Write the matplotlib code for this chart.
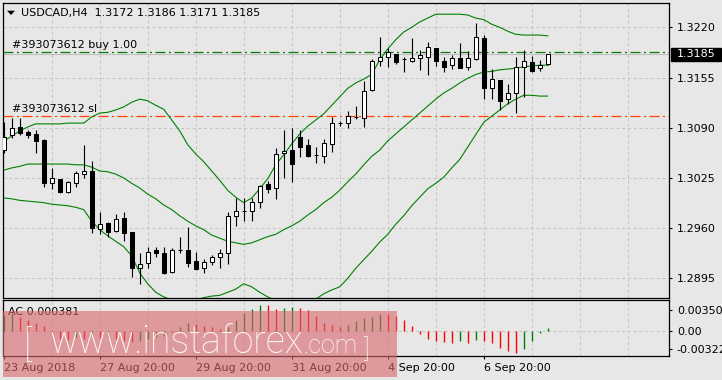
import matplotlib
matplotlib.use("Agg")
import matplotlib.pyplot as plt
from matplotlib.patches import Rectangle, Polygon

W, H = 722, 380
BG = "#e7e7e7"
GRID = "#c6c6c6"

# --- USDCAD H4 candles ---
opens = [1.3061, 1.3081, 1.3091, 1.3085, 1.3082, 1.3074, 1.3018, 1.3024, 1.3007, 1.3018,
         1.3030, 1.3034, 1.2959, 1.2967, 1.2956, 1.2973, 1.2955, 1.2908, 1.2915, 1.2932,
         1.2928, 1.2903, 1.2932, 1.2932, 1.2917, 1.2908, 1.2916, 1.2923, 1.2928, 1.2976,
         1.2982, 1.2982, 1.2994, 1.3017, 1.3012, 1.3057, 1.3061, 1.3078, 1.3068, 1.3055,
         1.3053, 1.3069, 1.3096, 1.3096, 1.3104, 1.3103, 1.3139, 1.3176, 1.3182, 1.3185,
         1.3179, 1.3176, 1.3180, 1.3182, 1.3193, 1.3176, 1.3171, 1.3180, 1.3169, 1.3179,
         1.3206, 1.3141, 1.3152, 1.3127, 1.3135, 1.3169, 1.3175, 1.3167, 1.3172]
highs = [1.3097, 1.3103, 1.3103, 1.3087, 1.3087, 1.3075, 1.3038, 1.3024, 1.3021, 1.3034,
         1.3068, 1.3047, 1.2981, 1.2968, 1.2978, 1.2981, 1.2955, 1.2928, 1.2936, 1.2936,
         1.2936, 1.2934, 1.2949, 1.2961, 1.2929, 1.2920, 1.2925, 1.2933, 1.2981, 1.2999,
         1.2999, 1.2999, 1.3016, 1.3021, 1.3064, 1.3087, 1.3090, 1.3087, 1.3075, 1.3065,
         1.3075, 1.3104, 1.3099, 1.3112, 1.3118, 1.3151, 1.3179, 1.3207, 1.3193, 1.3185,
         1.3182, 1.3206, 1.3191, 1.3201, 1.3193, 1.3182, 1.3184, 1.3200, 1.3189, 1.3226,
         1.3210, 1.3166, 1.3152, 1.3147, 1.3182, 1.3191, 1.3183, 1.3178, 1.3186]
lows = [1.3057, 1.3077, 1.3081, 1.3077, 1.3057, 1.3013, 1.3011, 1.3006, 1.3006, 1.3013,
        1.3025, 1.2954, 1.2952, 1.2949, 1.2955, 1.2943, 1.2897, 1.2888, 1.2908, 1.2923,
        1.2901, 1.2902, 1.2928, 1.2910, 1.2906, 1.2902, 1.2912, 1.2908, 1.2914, 1.2963,
        1.2969, 1.2969, 1.2986, 1.3006, 1.2998, 1.3025, 1.3020, 1.3052, 1.3052, 1.3044,
        1.3044, 1.3059, 1.3092, 1.3090, 1.3101, 1.3091, 1.3138, 1.3170, 1.3169, 1.3172,
        1.3162, 1.3175, 1.3165, 1.3158, 1.3170, 1.3162, 1.3166, 1.3167, 1.3165, 1.3178,
        1.3127, 1.3127, 1.3113, 1.3121, 1.3109, 1.3130, 1.3162, 1.3163, 1.3171]
closes = [1.3078, 1.3090, 1.3083, 1.3081, 1.3073, 1.3018, 1.3025, 1.3007, 1.3020, 1.3031,
          1.3034, 1.2960, 1.2965, 1.2955, 1.2972, 1.2954, 1.2908, 1.2914, 1.2929, 1.2928,
          1.2902, 1.2932, 1.2932, 1.2915, 1.2907, 1.2916, 1.2923, 1.2928, 1.2976, 1.2982,
          1.2982, 1.2994, 1.3015, 1.3011, 1.3056, 1.3060, 1.3043, 1.3065, 1.3053, 1.3055,
          1.3070, 1.3096, 1.3096, 1.3105, 1.3104, 1.3138, 1.3176, 1.3182, 1.3188, 1.3175,
          1.3179, 1.3180, 1.3184, 1.3195, 1.3176, 1.3169, 1.3180, 1.3167, 1.3180, 1.3207,
          1.3141, 1.3153, 1.3125, 1.3135, 1.3169, 1.3176, 1.3163, 1.3171, 1.3185]

# --- Bollinger bands ---
bb_upper = [1.3073, 1.3079, 1.3086, 1.3091, 1.3095, 1.3095, 1.3095, 1.3095, 1.3096, 1.3096,
            1.3096, 1.3104, 1.3109, 1.3110, 1.3113, 1.3117, 1.3123, 1.3127, 1.3125, 1.3119,
            1.3114, 1.3100, 1.3086, 1.3068, 1.3056, 1.3046, 1.3034, 1.3022, 1.3009, 1.3000,
            1.2993, 1.2999, 1.3011, 1.3024, 1.3042, 1.3055, 1.3069, 1.3082, 1.3092, 1.3100,
            1.3108, 1.3119, 1.3130, 1.3141, 1.3148, 1.3153, 1.3159, 1.3178, 1.3192, 1.3204,
            1.3214, 1.3220, 1.3227, 1.3232, 1.3237, 1.3237, 1.3237, 1.3237, 1.3236, 1.3232,
            1.3230, 1.3224, 1.3220, 1.3215, 1.3211, 1.3210, 1.3210, 1.3210, 1.3209]
bb_middle = [1.3035, 1.3038, 1.3040, 1.3043, 1.3043, 1.3043, 1.3043, 1.3043, 1.3043, 1.3042,
             1.3042, 1.3039, 1.3034, 1.3033, 1.3030, 1.3025, 1.3018, 1.3012, 1.3004, 1.2998,
             1.2990, 1.2984, 1.2976, 1.2969, 1.2963, 1.2958, 1.2951, 1.2947, 1.2943, 1.2941,
             1.2939, 1.2941, 1.2945, 1.2949, 1.2952, 1.2958, 1.2963, 1.2969, 1.2977, 1.2984,
             1.2993, 1.3000, 1.3009, 1.3020, 1.3030, 1.3042, 1.3053, 1.3061, 1.3073, 1.3082,
             1.3091, 1.3100, 1.3109, 1.3118, 1.3127, 1.3135, 1.3141, 1.3148, 1.3154, 1.3159,
             1.3162, 1.3163, 1.3165, 1.3166, 1.3167, 1.3169, 1.3170, 1.3171, 1.3171]
bb_lower = [1.2999, 1.2998, 1.2996, 1.2995, 1.2994, 1.2993, 1.2991, 1.2990, 1.2989, 1.2987,
            1.2984, 1.2969, 1.2958, 1.2950, 1.2943, 1.2936, 1.2924, 1.2902, 1.2888, 1.2877,
            1.2871, 1.2867, 1.2864, 1.2864, 1.2867, 1.2870, 1.2872, 1.2873, 1.2877, 1.2881,
            1.2888, 1.2884, 1.2877, 1.2871, 1.2866, 1.2862, 1.2860, 1.2862, 1.2864, 1.2868,
            1.2875, 1.2880, 1.2884, 1.2895, 1.2908, 1.2919, 1.2930, 1.2942, 1.2952, 1.2965,
            1.2976, 1.2989, 1.3000, 1.3011, 1.3018, 1.3026, 1.3038, 1.3049, 1.3065, 1.3081,
            1.3097, 1.3105, 1.3113, 1.3121, 1.3127, 1.3132, 1.3132, 1.3131, 1.3131]

# --- Accelerator oscillator ---
ac_values = [0.00275, 0.00298, 0.00241, 0.00189, 0.00132, 0.00074, -0.00057, -0.00143, -0.00160, -0.00115,
             -0.00138, -0.00074, -0.00126, -0.00109, -0.00143, -0.00172, -0.00195, -0.00183, -0.00143, -0.00115,
             -0.00086, -0.00029, 0.00057, 0.00132, 0.00115, 0.00074, 0.00057, 0.00029, 0.00057, 0.00189,
             0.00304, 0.00372, 0.00447, 0.00435, 0.00378, 0.00390, 0.00407, 0.00384, 0.00350, 0.00252,
             0.00126, 0.00097, 0.00069, 0.00097, 0.00166, 0.00223, 0.00235, 0.00287, 0.00281, 0.00252,
             0.00183, 0.00080, -0.00057, -0.00143, -0.00183, -0.00195, -0.00212, -0.00183, -0.00212, -0.00155,
             -0.00183, -0.00212, -0.00298, -0.00344, -0.00384, -0.00315, -0.00183, -0.00040, 0.000381]

tick_bars = [0, 12, 24, 36, 48, 60]
tick_labels = ["23 Aug 2018", "27 Aug 20:00", "29 Aug 20:00", "31 Aug 20:00", "4 Sep 20:00", "6 Sep 20:00"]
price_ticks = [1.2895, 1.2960, 1.3025, 1.3090, 1.3155, 1.3220]
ac_ticks = [0.003505, 0.0, -0.00322]
ac_tick_labels = ["0.003505", "0.00", "-0.00322"]

buy_price = 1.31885
sl_price = 1.31048
bid_price = 1.3185
title = "USDCAD,H4  1.3172 1.3186 1.3171 1.3185"


def fbox(left, top, right, bottom):
    # pixel box -> figure fractions
    return [left / W, 1 - bottom / H, (right - left) / W, (bottom - top) / H]


def ftext(x, y, s, **kw):
    fig.text(x / W, 1 - y / H, s, **kw)


fig = plt.figure(figsize=(W / 100, H / 100), dpi=100, facecolor=BG)
ax = fig.add_axes(fbox(3, 3, 669, 298), facecolor=BG)
ax_ac = fig.add_axes(fbox(3, 300, 669, 356), facecolor=BG)

n = len(closes)
xs = list(range(n))
x_lim = (-0.09, 83.16)

# --- Grid (drawn by hand so ticks stay free) ---
for a in (ax, ax_ac):
    for g in range(6, 84, 6):
        a.axvline(g, color=GRID, lw=0.75, ls=(0, (3, 2.5)), zorder=0)
for p in price_ticks:
    ax.axhline(p, color=GRID, lw=0.75, ls=(0, (3, 2.5)), zorder=0)
ax_ac.axhline(0, color=GRID, lw=0.75, ls=(0, (3, 2.5)), zorder=0)

# --- Trade levels ---
ax.axhline(bid_price, color="#c0c0c0", lw=0.8, zorder=1)
ax.axhline(buy_price, color="#0b7a0b", lw=0.9, dashes=(8, 2.8, 1.6, 2.8), zorder=1)
ax.axhline(sl_price, color="#ff4500", lw=0.9, dashes=(8, 2.8, 1.6, 2.8), zorder=1)

# --- Bollinger bands ---
for band in (bb_upper, bb_middle, bb_lower):
    ax.plot(xs, band, color="#008000", lw=0.8, zorder=2)

# --- Candles ---
body_w = 0.45
for i in range(n):
    o, h, l, c = opens[i], highs[i], lows[i], closes[i]
    ax.vlines(i, l, h, color="black", lw=0.8, zorder=3)
    face = "white" if c >= o else "black"
    ax.add_patch(Rectangle((i - body_w / 2, min(o, c)), body_w, abs(c - o),
                           facecolor=face, edgecolor="black", lw=0.75, zorder=4))

ax.set_xlim(*x_lim)
ax.set_ylim(1.286955, 1.325152)
ax.set_xticks([])
ax.set_yticks(price_ticks)
ax.set_yticklabels([f"{p:.4f}" for p in price_ticks])
ax.yaxis.tick_right()
ax.tick_params(axis="y", direction="out", length=2.2, width=0.8, pad=3.5, labelsize=8)

# current price box
px_per = (1.325152 - 1.286955) / 295
ax.add_patch(Rectangle((1.0 + 1.5 / 666, bid_price - 6.5 * px_per), 50 / 666, 13 * px_per,
                       transform=ax.get_yaxis_transform(), facecolor="black",
                       edgecolor="black", clip_on=False, zorder=6))
ax.text(1.0 + 7.5 / 666, bid_price, f"{bid_price:.4f}", transform=ax.get_yaxis_transform(),
        color="white", fontsize=8, va="center", ha="left", zorder=7, clip_on=False)

# --- AC histogram ---
ac_colors = ["#008000" if i == 0 or ac_values[i] > ac_values[i - 1] else "#ff0000" for i in range(n)]
ax_ac.vlines(xs, 0, ac_values, colors=ac_colors, lw=1.0, zorder=2)
ax_ac.set_xlim(*x_lim)
ax_ac.set_ylim(-0.00435, 0.00528)
ax_ac.set_xticks(tick_bars)
ax_ac.set_xticklabels(tick_labels, ha="left", fontsize=8)
ax_ac.set_yticks(ac_ticks)
ax_ac.set_yticklabels(ac_tick_labels)
ax_ac.yaxis.tick_right()
ax_ac.tick_params(axis="y", direction="out", length=2.2, width=0.8, pad=3.5, labelsize=8)
ax_ac.tick_params(axis="x", direction="out", length=2.5, width=0.8, pad=2.5)
ax_ac.text(5 / 666, 0.786, f"AC {ac_values[-1]:.6f}", transform=ax_ac.transAxes,
           fontsize=8, va="center", ha="left")

for a in (ax, ax_ac):
    for s in a.spines.values():
        s.set_color("black")
        s.set_linewidth(0.9)

# --- Header and order labels ---
fig.add_artist(Polygon([(7 / W, 1 - 10.7 / H), (15 / W, 1 - 10.7 / H), (11 / W, 1 - 15 / H)],
                       closed=True, transform=fig.transFigure, facecolor="black", edgecolor="none"))
ftext(21, 12.7, title, fontsize=8, va="center", ha="left")
ftext(12, 44.5, "#393073612 buy 1.00", fontsize=8, va="center", ha="left")
ftext(12, 109, "#393073612 sl", fontsize=8, va="center", ha="left")

# --- Watermark ---
fig.add_artist(Rectangle((3 / W, 1 - 377 / H), 394 / W, 66 / H, transform=fig.transFigure,
                         facecolor=(0.85, 0.40, 0.42), edgecolor="none", alpha=0.6, zorder=5))
wm = dict(color="white", alpha=0.97, family="Roboto", weight="light", va="baseline", ha="left", zorder=6)
ftext(24, 356, "[", fontsize=26, **wm)
ftext(49, 353, "www.instaforex", fontsize=27, **wm)
ftext(303, 353, ".com", fontsize=18, **wm)
ftext(363, 357, "]", fontsize=19, **wm)

fig.savefig("out.png", dpi=100, facecolor=BG)
